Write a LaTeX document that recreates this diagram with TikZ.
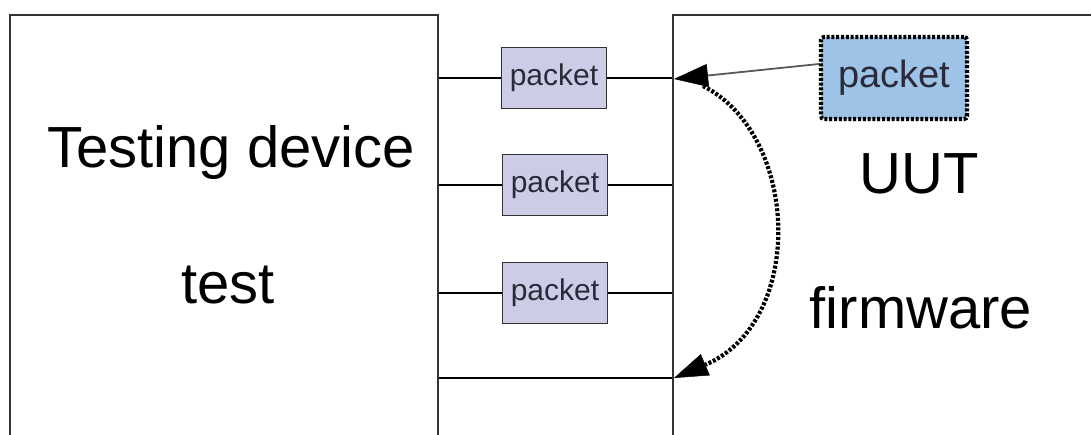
\documentclass[tikz,border=0pt]{standalone}
\usepackage{fontspec}
\setmainfont{Liberation Sans}
\usetikzlibrary{arrows.meta}
\definecolor{pktfill}{HTML}{CCCCE6}
\definecolor{bluefill}{HTML}{9DC3E6}
\definecolor{pkttext}{HTML}{2A2A3A}
\definecolor{edge}{HTML}{333333}
\tikzset{
  unitbox/.style={draw=edge, line width=1.6pt, fill=white, anchor=north west, inner sep=0pt},
  bigtext/.style={font=\fontsize{58}{60}\selectfont, anchor=base, inner sep=0pt},
  pktbox/.style={draw=edge, line width=1.6pt, fill=pktfill, minimum width=105pt, minimum height=61pt,
    inner sep=0pt, text=pkttext, font=\fontsize{30}{32}\selectfont},
  thickdots/.style={line width=4.2pt, dash pattern=on 3pt off 1.8pt},
  srcpkt/.style={draw=black, thickdots, fill=bluefill, rounded corners=3pt,
    minimum width=146pt, minimum height=82pt, inner sep=0pt, text=pkttext, font=\fontsize{38}{40}\selectfont},
  link/.style={draw=black, line width=1.4pt},
  bigtip/.style={-{Triangle[length=34pt,width=23pt,color=black,fill=black,line width=0.5pt]}},
}
\begin{document}
\begin{tikzpicture}[x=1pt,y=-1pt]
  \useasboundingbox (0,0) rectangle (1091,434);
  \clip (0,0) rectangle (1091,434);

  % the two units, running past the lower and right edges
  \node[unitbox, minimum width=428pt, minimum height=460pt] (tester) at (9,14) {};
  \node[unitbox, minimum width=460pt, minimum height=460pt] (uut) at (672,14) {};

  % unit captions
  \node[bigtext] (tdlabel) at (231,167) {Testing device};
  \node[bigtext] (testlabel) at (228,303) {test};
  \node[bigtext] (uutlabel) at (919,193) {UUT};
  \node[bigtext] (fwlabel) at (921,328) {firmware};

  % packets on the link
  \node[pktbox] (p1) at (554,78) {packet};
  \node[pktbox] (p2) at (555,185) {packet};
  \node[pktbox] (p3) at (555,293) {packet};

  \coordinate (l4) at (555,378);

  \draw[link] (p1.west -| tester.east) -- (p1.west);
  \draw[link] (p1.east) -- (p1.east -| uut.west);
  \draw[link] (p2.west -| tester.east) -- (p2.west);
  \draw[link] (p2.east) -- (p2.east -| uut.west);
  \draw[link] (p3.west -| tester.east) -- (p3.west);
  \draw[link] (p3.east) -- (p3.east -| uut.west);
  \draw[link] (l4 -| tester.east) -- (l4 -| uut.west);

  % packet inside the UUT being sent out
  \node[srcpkt] (src) at (894,78) {packet};
  \coordinate (outport) at (674,79);
  \coordinate (inport) at (674,378);
  \coordinate (loopstart) at (703,86);

  \draw[draw=gray!70!black, line width=1.8pt, bigtip] (src.west |- 0,64) -- (outport);

  % loop back inside the UUT
  \draw[thickdots, bigtip] (loopstart) .. controls (800,135) and (806,322) .. (inport);
\end{tikzpicture}
\end{document}
